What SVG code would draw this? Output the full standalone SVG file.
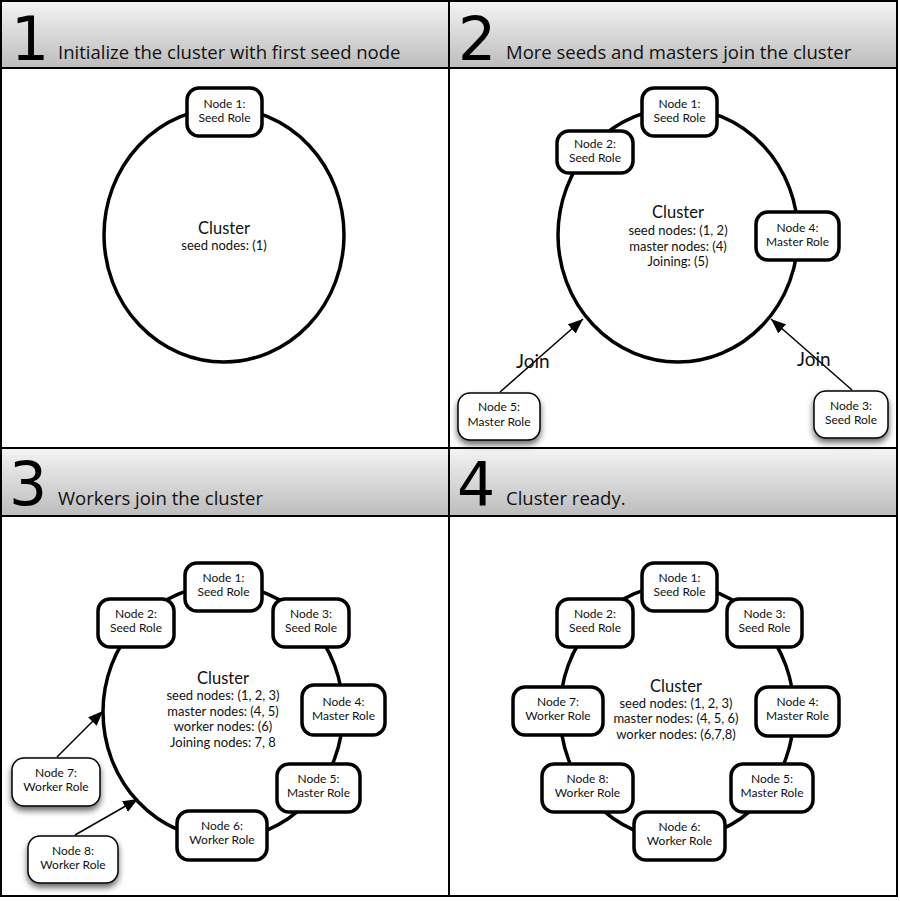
<svg xmlns="http://www.w3.org/2000/svg" width="900" height="901" viewBox="0 0 900 901">
<defs>
<linearGradient id="hdr" x1="0" y1="0" x2="0" y2="1">
<stop offset="0" stop-color="#f4f4f4"/>
<stop offset="1" stop-color="#bcbcbc"/>
</linearGradient>
<filter id="shadow" x="-30%" y="-30%" width="160%" height="170%">
<feDropShadow dx="0" dy="4" stdDeviation="3" flood-color="#000" flood-opacity="0.6"/>
</filter>
<marker id="arrow" markerUnits="userSpaceOnUse" markerWidth="18" markerHeight="14" refX="15" refY="6" orient="auto">
<path d="M0,0 L15,6 L0,12 z" fill="#000"/>
</marker>
</defs>
<style>
.hdr{fill:url(#hdr);stroke:#000;stroke-width:2}
.num{font-family:"DejaVu Sans",sans-serif;font-size:60px;fill:#000}
.title{font-family:"Open Sans",sans-serif;font-size:18.5px;fill:#111}
.ring{fill:none;stroke:#000;stroke-width:3.5}
.node rect{fill:#fff;stroke:#000;stroke-width:3.5}
.join rect{fill:#fff;stroke:#000;stroke-width:1.5;filter:url(#shadow)}
.node text,.join text{font-family:Lato,"Liberation Sans",sans-serif;font-size:12px;text-anchor:middle;fill:#111}
.ct{font-family:Lato,"Liberation Sans",sans-serif;font-size:16.5px;text-anchor:middle;fill:#111}
.cd{font-family:Lato,"Liberation Sans",sans-serif;font-size:13px;text-anchor:middle;fill:#111}
.lbl{font-family:Lato,"Liberation Sans",sans-serif;font-size:19px;fill:#111}
.conn line{stroke:#000;stroke-width:1.5;marker-end:url(#arrow)}
</style>
<rect x="0" y="0" width="900" height="901" fill="#fff"/>

<!-- headers -->
<g id="headers">
<rect class="hdr" x="1" y="1" width="448" height="67"/>
<rect class="hdr" x="449" y="1" width="448" height="67"/>
<rect class="hdr" x="1" y="448" width="448" height="68"/>
<rect class="hdr" x="449" y="448" width="448" height="68"/>
<text class="num" x="11" y="60">1</text>
<text class="title" x="58" y="59">Initialize the cluster with first seed node</text>
<text class="num" x="458" y="60">2</text>
<text class="title" x="506" y="59">More seeds and masters join the cluster</text>
<text class="num" x="9" y="505">3</text>
<text class="title" x="58" y="505">Workers join the cluster</text>
<text class="num" x="457" y="505">4</text>
<text class="title" x="506" y="505">Cluster ready.</text>
</g>

<!-- panel 1 -->
<g id="p1-cluster">
<ellipse class="ring" cx="224" cy="235" rx="120" ry="127"/>
<text class="ct" x="224" y="234">Cluster</text>
<text class="cd" x="224" y="250">seed nodes: (1)</text>
</g>
<g id="p1-node1" class="node"><rect x="187" y="88" width="75" height="48" rx="12"/><text x="224.5" y="108">Node 1:</text><text x="224.5" y="122">Seed Role</text></g>

<!-- panel 2 -->
<g id="p2-cluster">
<ellipse class="ring" cx="678" cy="235" rx="120" ry="127"/>
<text class="ct" x="678" y="218">Cluster</text>
<text class="cd" x="678" y="235">seed nodes: (1, 2)</text>
<text class="cd" x="678" y="251">master nodes: (4)</text>
<text class="cd" x="678" y="266">Joining: (5)</text>
</g>
<g id="p2-node1" class="node"><rect x="642" y="88" width="75" height="48" rx="12"/><text x="679.5" y="108">Node 1:</text><text x="679.5" y="122">Seed Role</text></g>
<g id="p2-node2" class="node"><rect x="557" y="131" width="76" height="42" rx="12"/><text x="595" y="148">Node 2:</text><text x="595" y="162">Seed Role</text></g>
<g id="p2-node4" class="node"><rect x="756" y="212" width="83" height="48" rx="12"/><text x="797.5" y="232">Node 4:</text><text x="797.5" y="246">Master Role</text></g>
<g id="p2-node5" class="join"><rect x="458" y="393" width="82" height="47" rx="12"/><text x="499" y="411">Node 5:</text><text x="499" y="426">Master Role</text></g>
<g id="p2-node3" class="join"><rect x="814" y="391" width="74" height="47" rx="12"/><text x="851" y="410">Node 3:</text><text x="851" y="424">Seed Role</text></g>

<!-- panel 3 -->
<g id="p3-cluster">
<ellipse class="ring" cx="223" cy="712" rx="120" ry="127"/>
<text class="ct" x="223" y="684">Cluster</text>
<text class="cd" x="223" y="700">seed nodes: (1, 2, 3)</text>
<text class="cd" x="223" y="716">master nodes: (4, 5)</text>
<text class="cd" x="223" y="731">worker nodes: (6)</text>
<text class="cd" x="223" y="747">Joining nodes: 7, 8</text>
</g>
<g id="p3-node1" class="node"><rect x="185" y="563" width="77" height="48" rx="12"/><text x="223.5" y="582">Node 1:</text><text x="223.5" y="596">Seed Role</text></g>
<g id="p3-node2" class="node"><rect x="98" y="599" width="76" height="48" rx="12"/><text x="136" y="618">Node 2:</text><text x="136" y="632">Seed Role</text></g>
<g id="p3-node3" class="node"><rect x="273" y="599" width="76" height="48" rx="12"/><text x="311" y="618">Node 3:</text><text x="311" y="632">Seed Role</text></g>
<g id="p3-node4" class="node"><rect x="302" y="685" width="83" height="50" rx="12"/><text x="343.5" y="706">Node 4:</text><text x="343.5" y="720">Master Role</text></g>
<g id="p3-node5" class="node"><rect x="277" y="764" width="83" height="48" rx="12"/><text x="318.5" y="783">Node 5:</text><text x="318.5" y="797">Master Role</text></g>
<g id="p3-node6" class="node"><rect x="177" y="811" width="90" height="49" rx="12"/><text x="222" y="830">Node 6:</text><text x="222" y="844">Worker Role</text></g>
<g id="p3-node7" class="join"><rect x="12" y="758" width="88" height="48" rx="12"/><text x="56" y="777">Node 7:</text><text x="56" y="791">Worker Role</text></g>
<g id="p3-node8" class="join"><rect x="28" y="836" width="90" height="47" rx="12"/><text x="73" y="855">Node 8:</text><text x="73" y="869">Worker Role</text></g>

<!-- panel 4 -->
<g id="p4-cluster">
<ellipse class="ring" cx="677" cy="712" rx="117" ry="127"/>
<text class="ct" x="676" y="692">Cluster</text>
<text class="cd" x="676" y="708">seed nodes: (1, 2, 3)</text>
<text class="cd" x="676" y="723">master nodes: (4, 5, 6)</text>
<text class="cd" x="676" y="739">worker nodes: (6,7,8)</text>
</g>
<g id="p4-node1" class="node"><rect x="642" y="563" width="75" height="48" rx="12"/><text x="679.5" y="582">Node 1:</text><text x="679.5" y="596">Seed Role</text></g>
<g id="p4-node2" class="node"><rect x="557" y="599" width="76" height="48" rx="12"/><text x="595" y="618">Node 2:</text><text x="595" y="632">Seed Role</text></g>
<g id="p4-node3" class="node"><rect x="727" y="599" width="75" height="48" rx="12"/><text x="764.5" y="618">Node 3:</text><text x="764.5" y="632">Seed Role</text></g>
<g id="p4-node7" class="node"><rect x="513" y="687" width="90" height="48" rx="12"/><text x="558" y="706">Node 7:</text><text x="558" y="720">Worker Role</text></g>
<g id="p4-node4" class="node"><rect x="756" y="687" width="83" height="49" rx="12"/><text x="797.5" y="706">Node 4:</text><text x="797.5" y="720">Master Role</text></g>
<g id="p4-node8" class="node"><rect x="542" y="764" width="91" height="48" rx="12"/><text x="587.5" y="783">Node 8:</text><text x="587.5" y="797">Worker Role</text></g>
<g id="p4-node5" class="node"><rect x="731" y="764" width="82" height="48" rx="12"/><text x="772" y="783">Node 5:</text><text x="772" y="797">Master Role</text></g>
<g id="p4-node6" class="node"><rect x="634" y="812" width="91" height="48" rx="12"/><text x="679.5" y="831">Node 6:</text><text x="679.5" y="845">Worker Role</text></g>

<!-- connectors -->
<g id="connectors" class="conn">
<line x1="500" y1="392" x2="583" y2="319"/>
<line x1="852" y1="390" x2="771" y2="319"/>
<line x1="57" y1="757" x2="103" y2="711"/>
<line x1="75" y1="835" x2="138" y2="799"/>
<text class="lbl" x="516" y="368">Join</text>
<text class="lbl" x="797" y="366">Join</text>
</g>

<!-- frame -->
<g id="frame" fill="none" stroke="#000" stroke-width="2">
<rect x="1" y="1" width="896" height="895"/>
<line x1="449" y1="1" x2="449" y2="896"/>
<line x1="1" y1="448" x2="897" y2="448"/>
</g>
</svg>
